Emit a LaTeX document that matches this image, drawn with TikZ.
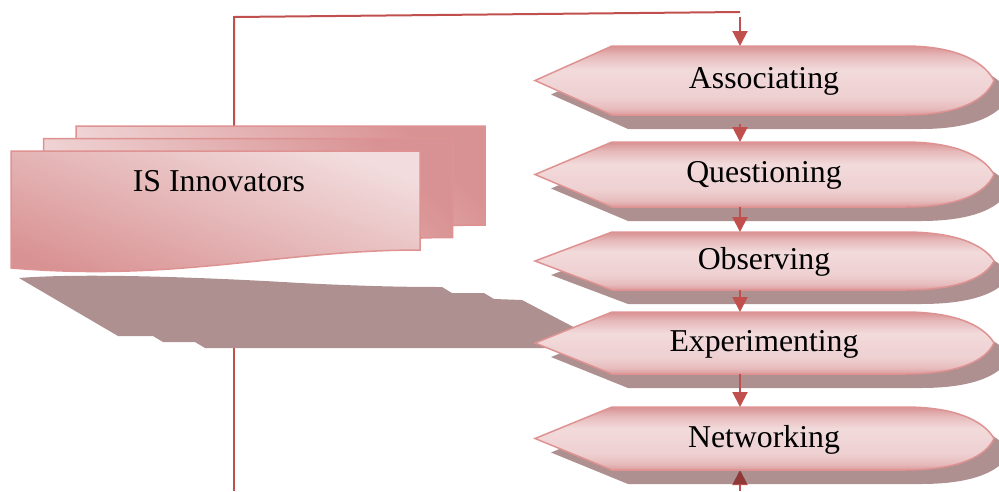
\documentclass[tikz,border=0pt]{standalone}
\usepackage{fontspec}
\setmainfont{Liberation Serif}
\usetikzlibrary{arrows.meta}
\definecolor{ln}{RGB}{192,80,77}
\definecolor{bd}{RGB}{222,146,146}
\definecolor{stT}{RGB}{216,146,147}
\definecolor{stT2}{RGB}{230,185,186}
\definecolor{stM}{RGB}{242,218,219}
\definecolor{stM2}{RGB}{238,208,209}
\definecolor{stB2}{RGB}{231,188,189}
\definecolor{stB}{RGB}{220,155,156}
\definecolor{shd}{RGB}{93,33,35}
\definecolor{shg}{RGB}{174,144,145}
\definecolor{pkL}{RGB}{242,220,221}
\definecolor{pkD}{RGB}{217,146,147}
\pgfdeclareverticalshading{stepsh}{100bp}{color(0bp)=(stB); color(25bp)=(stB); color(30bp)=(stB2); color(38bp)=(stM2); color(58bp)=(stM); color(68bp)=(stT2); color(75bp)=(stT); color(100bp)=(stT)}
\tikzset{
  conn/.style={draw=ln, line width=2pt},
  arr/.style={conn, -{Triangle[length=15pt,width=15pt]}},
  stepfill/.style={draw=bd, line width=1.5pt, shading=stepsh},
  stepshadow/.style={fill=shd, fill opacity=.5},
  lbl/.style={font=\fontsize{31.8}{36}\selectfont, inner sep=0pt},
  backlayer/.style={draw=bd, line width=1.5pt, top color=pkD, bottom color=pkL, shading angle=-45},
  frontlayer/.style={draw=bd, line width=1.5pt, top color=pkL, middle color=pkL, bottom color=pkD, shading angle=-20},
}
\newcommand\stepbox[4]{%
  \begin{scope}[shift={(16,{#2+14})}]
    \fill[stepshadow] (535,0) -- (612,-#3) -- (905,-#3) .. controls (962,-#3) and (986,{-0.45*#3}) .. (994,0)
      .. controls (986,{0.55*#3}) and (960,#3) .. (905,#3) -- (612,#3) -- cycle;
  \end{scope}
  \begin{scope}[shift={(0,#2)}]
    \path[stepfill] (535,0) -- (612,-#3) -- (905,-#3) .. controls (962,-#3) and (986,{-0.45*#3}) .. (994,0)
      .. controls (986,{0.55*#3}) and (960,#3) .. (905,#3) -- (612,#3) -- cycle;
  \end{scope}
  \node[lbl] (#1) at (764,{#2+1}) {#4};
  \coordinate (#1-t) at (740,{#2-#3});
  \coordinate (#1-b) at (740,{#2+#3});
}
\newcommand\docshape[1]{%
  \path[#1] (11,151) -- (420,151) -- (420,250) .. controls (280,250) and (180,282) .. (11,268) -- cycle;
}
\begin{document}
\begin{tikzpicture}[x=1pt,y=-1pt]
\useasboundingbox (0,0) rectangle (999,491);
\coordinate (lb) at (234,491);
\coordinate (lm) at (234,348);
\coordinate (lt) at (234,127);
\coordinate (c1) at (234,17);
\coordinate (c2) at (740,12);
\coordinate (nb) at (740,491);
% loop connector, passing behind the stack
\draw[conn] (lb) -- (lm);
\draw[conn] (lt) -- (c1) -- (c2);
% bottom arrow into Networking (under its shadow)
\draw[arr] (nb) -- (740,470);
% stack shadow
\fill[shg] (19,278) .. controls (80,273) and (200,277) .. (300,283) .. controls (360,286) and (400,287) .. (442,287)
  -- (452,293) -- (484,293) -- (494,299) -- (522,300) -- (585,333) -- (560,348) -- (205,348) -- (195,342)
  -- (163,342) -- (153,336) -- (118,336) -- cycle;
% stack layers
\begin{scope}[shift={(65,-25)}]\docshape{backlayer}\end{scope}
\begin{scope}[shift={(32.5,-12.5)}]\docshape{backlayer}\end{scope}
\docshape{frontlayer}
\node[lbl] (inn) at (219,181) {IS Innovators};
% steps
\stepbox{s1}{80.5}{34.5}{Associating}
\stepbox{s2}{174.5}{32.5}{Questioning}
\stepbox{s3}{261}{29}{Observing}
\stepbox{s4}{343}{31}{Experimenting}
\stepbox{s5}{438.5}{31.5}{Networking}
% arrows
\draw[arr] (740,17) -- (s1-t);
\draw[arr] ([yshift=-9pt]s1-b) -- (s2-t);
\draw[arr] (s2-b) -- (s3-t);
\draw[arr] (s3-b) -- (s4-t);
\draw[arr] (s4-b) -- (s5-t);
\end{tikzpicture}
\end{document}
